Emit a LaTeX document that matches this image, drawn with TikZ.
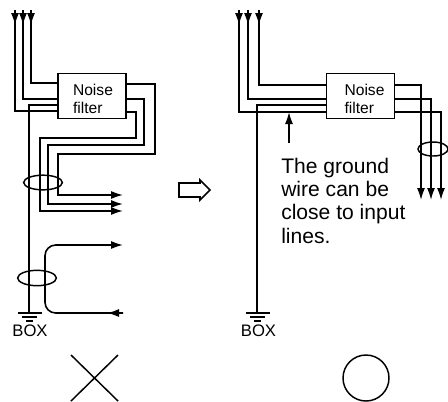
\documentclass[tikz,border=0pt]{standalone}
\usepackage{fontspec}
\setmainfont{Liberation Sans}
\usetikzlibrary{arrows.meta, shapes.geometric}

\begin{document}
\begin{tikzpicture}[x=0.75pt, y=-0.75pt, >=Latex,
    wire/.style={draw, line width=1.2pt},
    fwire/.style={wire, ->, >={Latex[length=9pt,width=6pt]}},
    thin wire/.style={draw, line width=0.8pt},
    filter/.style={draw, line width=1.2pt, fill=white, minimum width=51pt, minimum height=34pt, inner sep=0pt},
    filterlabel/.style={align=left, inner sep=0pt, font=\fontsize{11.7}{13.4}\selectfont},
    clamp/.style={draw, line width=1.1pt},
    boxlabel/.style={inner sep=0pt, font=\fontsize{12.5}{12}\selectfont},
    note/.style={inner sep=0pt, align=left, anchor=north west, font=\fontsize{15.8}{17.4}\selectfont}]
    \useasboundingbox (0,0) rectangle (448,401);

    % bad wiring
    \node[filter] (nf1) at (92,96) {};
    \node[filterlabel] (nl1) at (93,98.5) {Noise\\filter};
    \coordinate (a1) at (31,10);
    \coordinate (a2) at (23,10);
    \coordinate (a3) at (15,10);
    \coordinate (h1) at (31,25);
    \coordinate (h2) at (23,25);
    \coordinate (h3) at (15,25);
    \coordinate (l1) at (nf1.west |- 0,83);
    \coordinate (l2) at (nf1.west |- 0,99);
    \coordinate (l3) at (nf1.west |- 0,111);
    \coordinate (lg) at (nf1.west |- 0,105);
    \coordinate (r1) at (nf1.east |- 0,84);
    \coordinate (r2) at (nf1.east |- 0,99);
    \coordinate (r3) at (nf1.east |- 0,112);
    \coordinate (o1) at (123,195);
    \coordinate (o2) at (123,204);
    \coordinate (o3) at (123,211);
    \coordinate (g1) at (29,313);
    \coordinate (p1) at (123,245);
    \coordinate (p2) at (107,313);
    \coordinate (p3) at (123,313);

    \draw[wire] (l1) -| (a1);
    \draw[wire] (l2) -| (a2);
    \draw[wire] (l3) -| (a3);
    \draw[fwire] (a1) -- (h1);
    \draw[fwire] (a2) -- (h2);
    \draw[fwire] (a3) -- (h3);
    \draw[thin wire] (lg) -| (g1);
    \draw[fwire] (r1) -- (155,84) -- (155,154) -- (58,154) |- (o1);
    \draw[fwire] (r2) -- (144,99) -- (144,145) -- (48,145) |- (o2);
    \draw[fwire] (r3) -- (136,112) -- (136,138) -- (40,138) |- (o3);
    \draw[fwire, rounded corners=8pt] (p3) -| (45,245) -- (p1);
    \draw[fwire] (p3) -- (p2);
    \node[clamp, ellipse, minimum width=29pt, minimum height=11pt, inner sep=0pt] (e1) at (43,182.5) {};
    \node[clamp, ellipse, minimum width=29pt, minimum height=11.5pt, inner sep=0pt] (e2) at (37,278) {};

    \draw[wire] (18,313) -- (42,313);
    \draw[wire] (22,317) -- (37,317);
    \draw[wire] (26,321) -- (33,321);
    \node[boxlabel] (b1) at (30,331) {BOX};

    \draw[line width=1.1pt] (71,355) -- (118,401);
    \draw[line width=1.1pt] (118,355) -- (71,401);

    % hollow arrow
    \draw[line width=1.3pt, line join=miter] (179,183) -- (200,183) -- (200,180) -- (210,190) -- (200,200) -- (200,197) -- (179,197) -- cycle;

    % good wiring
    \node[filter] (nf2) at (360.5,96) {};
    \node[filterlabel] (nl2) at (364.5,98.5) {Noise\\filter};
    \coordinate (b1a) at (259,10);
    \coordinate (b2a) at (248,10);
    \coordinate (b3a) at (239,10);
    \coordinate (k1) at (259,25);
    \coordinate (k2) at (248,25);
    \coordinate (k3) at (239,25);
    \coordinate (m1) at (nf2.west |- 0,85);
    \coordinate (m2) at (nf2.west |- 0,99);
    \coordinate (m3) at (nf2.west |- 0,112);
    \coordinate (mg) at (nf2.west |- 0,105);
    \coordinate (s1) at (nf2.east |- 0,85);
    \coordinate (s2) at (nf2.east |- 0,99);
    \coordinate (s3) at (nf2.east |- 0,112);
    \coordinate (u1) at (421,200);
    \coordinate (u2) at (431,200);
    \coordinate (u3) at (441,200);
    \coordinate (g2) at (257,313);
    \coordinate (c1) at (289,143);
    \coordinate (c2) at (289,112);

    \draw[wire] (m1) -| (b1a);
    \draw[wire] (m2) -| (b2a);
    \draw[wire] (m3) -| (b3a);
    \draw[fwire] (b1a) -- (k1);
    \draw[fwire] (b2a) -- (k2);
    \draw[fwire] (b3a) -- (k3);
    \draw[thin wire] (mg) -| (g2);
    \draw[fwire] (s1) -| (u1);
    \draw[fwire] (s2) -| (u2);
    \draw[fwire] (s3) -| (u3);
    \draw[fwire] (c1) -- (c2);
    \node[clamp, ellipse, minimum width=22.5pt, minimum height=10.5pt, inner sep=0pt] (e3) at (433,149) {};

    \draw[wire] (246,313) -- (270,313);
    \draw[wire] (250,317) -- (265,317);
    \draw[wire] (254,321) -- (261,321);
    \node[boxlabel] (b2) at (258.5,331) {BOX};
    \node[note] (txt) at (281,158) {The ground\\wire can be\\close to input\\lines.};

    \node[draw, circle, line width=1.1pt, minimum size=34.5pt, inner sep=0pt] (ok) at (366,378) {};
\end{tikzpicture}
\end{document}
